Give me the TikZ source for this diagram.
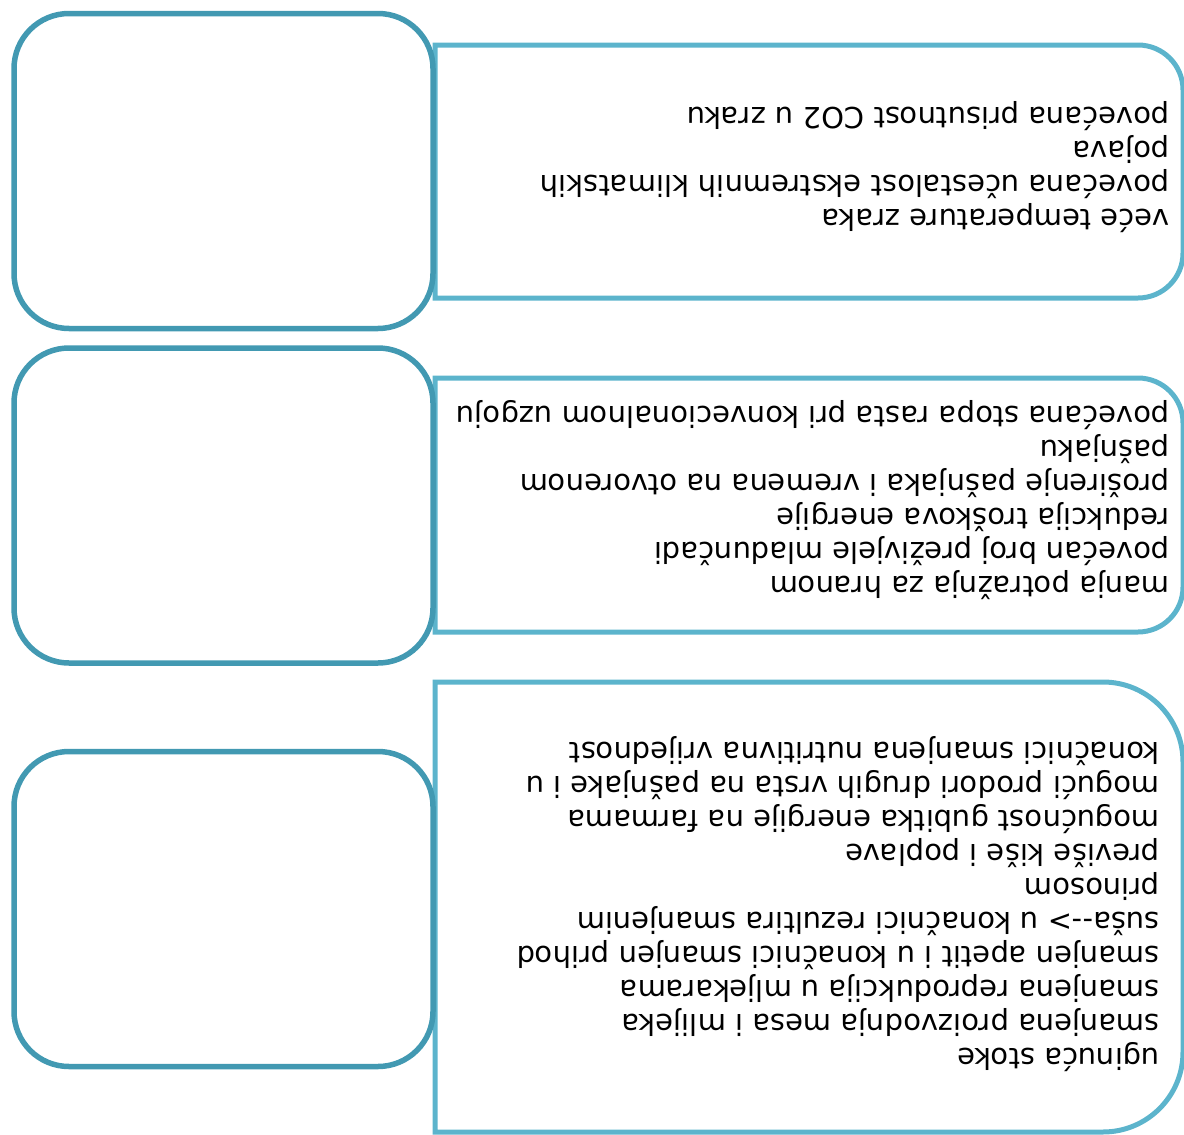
\documentclass[tikz,border=0pt]{standalone}
\usepackage{fontspec}
\setmainfont{DejaVu Sans}
\definecolor{dk}{RGB}{66,153,178}
\definecolor{lt}{RGB}{92,180,204}
\begin{document}
\begin{tikzpicture}[x=1pt,y=-1pt,
  leftbox/.style={draw=dk, line width=5.5pt, rounded corners=55pt, minimum width=419pt, minimum height=315pt, inner sep=0pt},
  rightbox/.style={draw=lt, line width=5pt},
  txt/.style={rotate=180, anchor=west, align=left, inner sep=0pt, font=\fontsize{29}{34}\selectfont}]
\useasboundingbox (0,0) rectangle (1184,1135);
% right boxes (square on left, rounded on right)
\draw[rightbox] (435,298) -- (435,45) -- (1138,45) arc[start angle=-90, end angle=0, radius=45] -- (1183,253) arc[start angle=0, end angle=90, radius=45] -- cycle;
\draw[rightbox] (435,632) -- (435,378) -- (1138,378) arc[start angle=-90, end angle=0, radius=45] -- (1183,587) arc[start angle=0, end angle=90, radius=45] -- cycle;
\draw[rightbox] (435,1132) -- (435,682) -- (1103,682) arc[start angle=-90, end angle=0, radius=80] -- (1183,1052) arc[start angle=0, end angle=90, radius=80] -- cycle;
% left boxes
\node[leftbox] (L1) at (223.5,171) {};
\node[leftbox] (L2) at (223.5,505.5) {};
\node[leftbox] (L3) at (223.5,909) {};
% texts (upside down)
\node[txt] (T1) at (1170,167) {veće temperature zraka\\povećana učestalost ekstremnih klimatskih\\pojava\\povećana prisutnost CO2 u zraku};
\node[txt] (T2) at (1170,500) {manja potražnja za hranom\\povećan broj preživjele mladunčadi\\redukcija troškova energije\\proširenje pašnjaka i vremena na otvorenom\\pašnjaku\\povećana stopa rasta pri konvecionalnom uzgoju};
\node[txt] (T3) at (1160,904) {uginuća stoke\\smanjena proizvodnja mesa i mlijeka\\smanjena reprodukcija u mljekarama\\smanjen apetit i u konačnici smanjen prihod\\suša\mbox{-}\mbox{-}> u konačnici rezultira smanjenim\\prinosom\\previše kiše i poplave\\mogućnost gubitka energije na farmama\\mogući prodori drugih vrsta na pašnjake i u\\konačnici smanjena nutritivna vrijednost};
\end{tikzpicture}
\end{document}
